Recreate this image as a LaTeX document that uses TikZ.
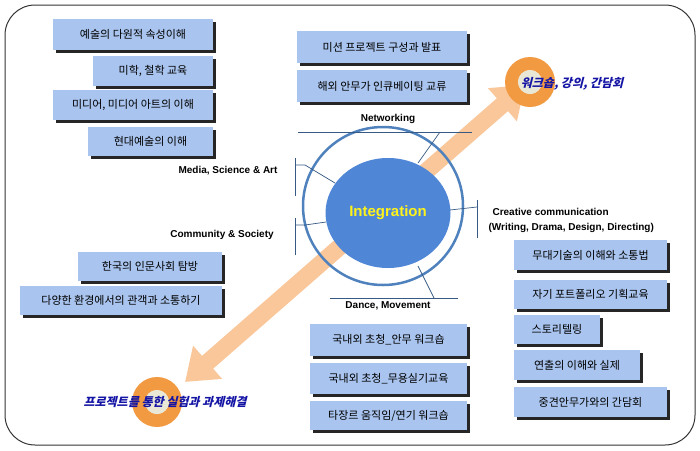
\documentclass[tikz,border=0pt]{standalone}
\usepackage{fontspec}
\setmainfont{Noto Sans CJK KR}
\newfontfamily\enf{Liberation Sans}
\newfontfamily\slk[FakeSlant=0.25]{Noto Sans CJK KR}
\usetikzlibrary{arrows.meta,shadows,shapes.geometric}
\definecolor{boxc}{HTML}{A9C4EE}
\definecolor{ringc}{HTML}{4F81BD}
\definecolor{innc}{HTML}{4F86D6}
\definecolor{arrc}{HTML}{F9C79A}
\definecolor{donc}{HTML}{F29A42}
\definecolor{labc}{HTML}{1515A5}
\begin{document}
\begin{tikzpicture}[x=1pt,y=-1pt,
  bx/.style={fill=boxc,inner sep=0pt,font=\fontsize{11}{13}\selectfont,drop shadow={shadow xshift=2.5pt,shadow yshift=-2.5pt,fill=black!85,opacity=1}},
  lab/.style={font=\enf\bfseries\fontsize{10}{12}\selectfont},
  ln/.style={draw=ringc!70!black,line width=0.7pt},
  ital/.style={font=\slk\bfseries\fontsize{12}{14}\selectfont,text=labc}]
\useasboundingbox (0,0) rectangle (700,450);
\draw[line width=1pt,rounded corners=30pt,draw=black!80] (5,5) rectangle (695,445);
% boxes
\newcommand\bxn[6]{\node[bx,minimum width={#4-#2},minimum height={#5-#3}] (#1) at ({(#2+#4)/2},{(#3+#5)/2}) {#6};}
\bxn{b1}{53}{19}{213}{50}{예술의 다원적 속성이해}
\bxn{b2}{93}{56}{213}{86}{미학, 철학 교육}
\bxn{b3}{53}{90}{213}{120}{미디어, 미디어 아트의 이해}
\bxn{b4}{88}{127}{213}{156}{현대예술의 이해}
\bxn{b5}{297}{31}{467}{63}{미션 프로젝트 구성과 발표}
\bxn{b6}{297}{70}{467}{102}{해외 안무가 인큐베이팅 교류}
\bxn{b7}{78}{252}{222}{281}{한국의 인문사회 탐방}
\bxn{b8}{20}{286}{222}{315}{다양한 환경에서의 관객과 소통하기}
\bxn{b9}{310}{324}{467}{356}{국내외 초청\_안무 워크숍}
\bxn{b10}{310}{363}{467}{394}{국내외 초청\_무용실기교육}
\bxn{b11}{310}{401}{467}{430}{타장르 움직임/연기 워크숍}
\bxn{b12}{514}{240}{667}{270}{무대기술의 이해와 소통법}
\bxn{b13}{514}{280}{667}{309}{자기 포트폴리오 기획교육}
\bxn{b14}{514}{315}{600}{344}{스토리텔링}
\bxn{b15}{514}{350}{640}{380}{연출의 이해와 실제}
\bxn{b16}{514}{387}{667}{417}{중견안무가와의 간담회}
% arrow
\coordinate (a1) at (185,382);
\coordinate (a2) at (525,85);
\draw[arrc,line width=17pt,{Triangle[length=30pt,width=42pt]}-{Triangle[length=30pt,width=42pt]}] (a1) -- (a2);
% donuts
\foreach \n/\p in {d1/{(157,402)},d2/{(530,82)}}{
  \fill[donc,even odd rule] \p circle (25) \p circle (12);
  \fill[white!90!yellow!80!gray] \p circle (12);
}
\node[ital,anchor=center] (t1) at (165,402) {프로젝트를 통한 실험과 과제해결};
\node[ital,anchor=center] (t2) at (572,84) {워크숍, 강의, 간담회};
% circles
\node[draw=ringc,line width=2.5pt,ellipse,minimum width=160pt,minimum height=158pt,inner sep=0pt] (ring) at (383,206) {};
\node[fill=innc,ellipse,minimum width=125pt,minimum height=110pt,inner sep=0pt,font=\enf\bfseries\fontsize{15}{18}\selectfont,text=yellow!90!white] (core) at (388,213) {Integration};
% networking
\coordinate (n1) at (298,132); \coordinate (n2) at (472,132);
\draw[ln] (n1) -- (n2);
\node[lab] (net) at (388,119) {Networking};
\coordinate (nc) at (440,132);
\draw[ln] (nc) -- (418,163);
% media
\coordinate (m1) at (295,158); \coordinate (m2) at (295,196);
\draw[ln] (m1) -- (m2);
\draw[ln] (295,165) -- (305,165) -- (335,183);
\node[lab,anchor=center] (media) at (228,171) {Media, Science \& Art};
% community
\draw[ln] (295,218) -- (295,255);
\draw[ln] (295,225) -- (305,225) -- (326,222);
\node[lab] (comm) at (222,235) {Community \& Society};
% creative
\draw[ln] (477,200) -- (477,238);
\draw[ln] (477,207) -- (450,210);
\node[lab,anchor=west] (cre) at (489,212) {Creative communication};
\node[lab,anchor=west] (cre2) at (485,228) {(Writing, Drama, Design, Directing)};
% dance
\draw[ln] (330,298) -- (458,298);
\draw[ln] (434,298) -- (418,266);
\node[lab] (dance) at (388,306) {Dance, Movement};
\end{tikzpicture}
\end{document}
